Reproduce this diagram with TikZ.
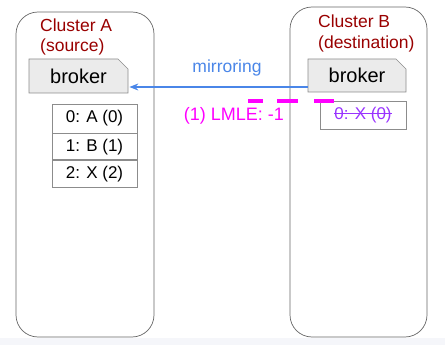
\documentclass[tikz,border=0pt]{standalone}
\usepackage{fontspec}
\setmainfont{Liberation Sans}
\usetikzlibrary{shapes.misc,arrows.meta}
\definecolor{clred}{HTML}{990000}
\definecolor{mirblue}{HTML}{4A86E8}
\definecolor{lmle}{HTML}{FF00FF}
\definecolor{gone}{HTML}{9933FF}
\definecolor{strip}{HTML}{F5F6FA}
\tikzset{
  cluster/.style={draw=black!60, line width=0.7pt, rounded corners=22pt},
  cltext/.style={text=clred, font=\fontsize{17.5}{21}\selectfont, anchor=base west, inner sep=0pt},
  brokerbox/.style={chamfered rectangle, chamfered rectangle corners=north east, chamfered rectangle sep=5pt,
     draw=black!45, fill=black!8, line width=0.7pt, inner sep=0pt, font=\fontsize{20}{24}\selectfont},
  partbox/.style={draw=black!45, line width=0.7pt, minimum width=85pt, inner sep=0pt, font=\fontsize{17}{20}\selectfont},
  dashbar/.style={draw=lmle, line width=4pt},
}
\begin{document}
\begin{tikzpicture}[x=1pt,y=-1pt]
\useasboundingbox (0,0) rectangle (445,345);
\fill[strip] (0,338) rectangle (445,345);
% clusters
\draw[cluster] (16,12) rectangle (154,337);
\draw[cluster] (290,7) rectangle (427,337);
\node[cltext] (ca1) at (40,32) {Cluster A};
\node[cltext] (ca2) at (40,52) {(source)};
\node[cltext] (cb1) at (318,28) {Cluster B};
\node[cltext] (cb2) at (318,49) {(destination)};
% brokers
\node[brokerbox, minimum width=99pt, minimum height=34pt] (bA) at (78.5,76) {broker};
\node[brokerbox, minimum width=98pt, minimum height=33pt] (bB) at (357,75.5) {broker};
% mirroring arrow
\draw[mirblue, line width=1.2pt, -{Stealth[length=9pt,width=7pt]}] ([yshift=-11.5pt]bB.west) -- ([yshift=-11pt,xshift=1pt]bA.east);
\node[text=mirblue, font=\fontsize{17.5}{21}\selectfont] (mir) at (227,68) {mirroring};
% partitions A
\node[partbox, minimum height=29pt] (p0) at (94.5,118.5) {0: A (0)};
\node[partbox, minimum height=26pt, anchor=north] (p1) at (p0.south) {1: B (1)};
\node[partbox, minimum height=27pt, anchor=north] (p2) at (p1.south) {2: X (2)};
% partition B
\node[partbox, minimum width=86pt, minimum height=28pt] (q0) at (363,115) {};
\node[text=gone, inner sep=0pt, font=\fontsize{17}{20}\selectfont] (qt) at (q0.center) {0: X (0)};
\draw[gone, line width=1pt] ([yshift=1pt]qt.west) -- ([yshift=1pt]qt.east);
% LMLE
\node[text=lmle, font=\fontsize{18}{22}\selectfont] (lm) at (234,116) {(1) LMLE: -1};
\coordinate (d1) at (248,101);
\coordinate (d2) at (263,101);
\coordinate (d3) at (277,101);
\coordinate (d4) at (298,101);
\coordinate (d5) at (314,101);
\coordinate (d6) at (334,101);
\draw[dashbar] (d1) -- (d2);
\draw[dashbar] (d3) -- (d4);
\draw[dashbar] (d5) -- (d6);
\end{tikzpicture}
\end{document}
